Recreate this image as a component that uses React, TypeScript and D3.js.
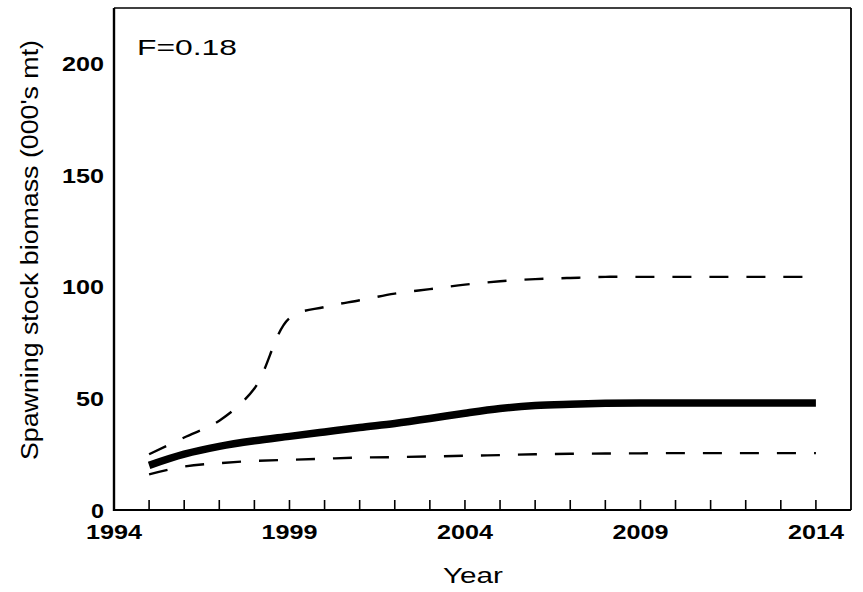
import React from "react";
import * as d3 from "d3";

const years = [1995, 1996, 1997, 1998, 1999, 2000, 2001, 2002, 2003, 2004, 2005, 2006, 2007, 2008, 2009, 2010, 2011, 2012, 2013, 2014];
const median = [20, 25, 28.5, 31, 33, 35, 37, 38.8, 41, 43.4, 45.5, 46.8, 47.4, 47.8, 48, 48, 48, 48, 48, 48];
const upper = [25, 32.5, 40, 54.5, 86, 91, 94, 97, 99, 101, 102.5, 103.5, 104, 104.5, 104.5, 104.5, 104.5, 104.5, 104.5, 104.5];
const lower = [16, 19.5, 21, 22, 22.5, 23, 23.5, 23.7, 24, 24.3, 24.6, 25, 25.2, 25.3, 25.4, 25.5, 25.5, 25.5, 25.5, 25.5];
const xTickLabels = [1994, 1999, 2004, 2009, 2014];
const yTickLabels = [0, 50, 100, 150, 200];
const xTitle = "Year";
const yTitle = "Spawning stock biomass (000's mt)";
const annotation = "F=0.18";

const W = 863;
const H = 592;
const left = 114;
const right = 851;
const top = 8;
const bottom = 510;
const font = "'Liberation Sans', Arial, Helvetica, sans-serif";

export default function App() {
  const x = d3.scaleLinear().domain([1994, 2015]).range([left, right]);
  const y = d3.scaleLinear().domain([0, 225]).range([bottom, top]);
  const line = (vals: number[]) =>
    d3
      .line<number>()
      .x((_, i) => x(years[i]))
      .y((d) => y(d))
      .curve(d3.curveCatmullRom.alpha(0.5))(vals) || "";

  return (
    <svg
      width={W}
      height={H}
      viewBox={`0 0 ${W} ${H}`}
      style={{ position: "absolute", left: 0, top: 0, background: "#fff" }}
    >
      <rect x={0} y={0} width={W} height={H} fill="#fff" />
      {/* frame */}
      <line x1={left} y1={top} x2={right} y2={top} stroke="#000" strokeWidth={1.6} />
      <line x1={right} y1={top} x2={right} y2={bottom} stroke="#000" strokeWidth={1.8} />
      <line x1={left} y1={top} x2={left} y2={bottom + 1} stroke="#000" strokeWidth={2.4} />
      <line x1={left} y1={bottom} x2={right} y2={bottom} stroke="#000" strokeWidth={2.2} />
      {/* x ticks */}
      {years.map((yr) => (
        <line key={yr} x1={x(yr)} x2={x(yr)} y1={bottom} y2={bottom - 10} stroke="#000" strokeWidth={1.6} />
      ))}
      {/* x tick labels */}
      {xTickLabels.map((t) => (
        <text
          key={t}
          x={x(t)}
          y={539}
          textAnchor="middle"
          fontFamily={font}
          fontWeight="bold"
          fontSize={19.5}
          textLength={56}
          lengthAdjust="spacingAndGlyphs"
        >
          {t}
        </text>
      ))}
      {/* y tick labels */}
      {yTickLabels.map((t) => {
        const s = String(t);
        const w = s.length * 14 - (s.length === 1 ? 1 : 0);
        return (
          <text
            key={t}
            x={104 - w}
            y={y(t) + 7.5}
            textAnchor="start"
            fontFamily={font}
            fontWeight="bold"
            fontSize={20}
            textLength={w}
            lengthAdjust="spacingAndGlyphs"
          >
            {s}
          </text>
        );
      })}
      {/* axis titles */}
      <text
        x={443}
        y={583}
        fontFamily={font}
        fontSize={21.5}
        textLength={60}
        lengthAdjust="spacingAndGlyphs"
      >
        {xTitle}
      </text>
      <text
        transform={`translate(38, 250) rotate(-90)`}
        x={0}
        y={0}
        textAnchor="middle"
        fontFamily={font}
        fontSize={23}
        textLength={420}
        lengthAdjust="spacingAndGlyphs"
      >
        {yTitle}
      </text>
      <text
        x={137}
        y={55}
        fontFamily={font}
        fontSize={21.5}
        textLength={100}
        lengthAdjust="spacingAndGlyphs"
      >
        {annotation}
      </text>
      {/* series */}
      <path d={line(upper)} fill="none" stroke="#000" strokeWidth={2.4} strokeDasharray="19 18" />
      <path d={line(lower)} fill="none" stroke="#000" strokeWidth={2.4} strokeDasharray="19 18" />
      <path d={line(median)} fill="none" stroke="#000" strokeWidth={7.5} strokeLinejoin="round" />
    </svg>
  );
}
